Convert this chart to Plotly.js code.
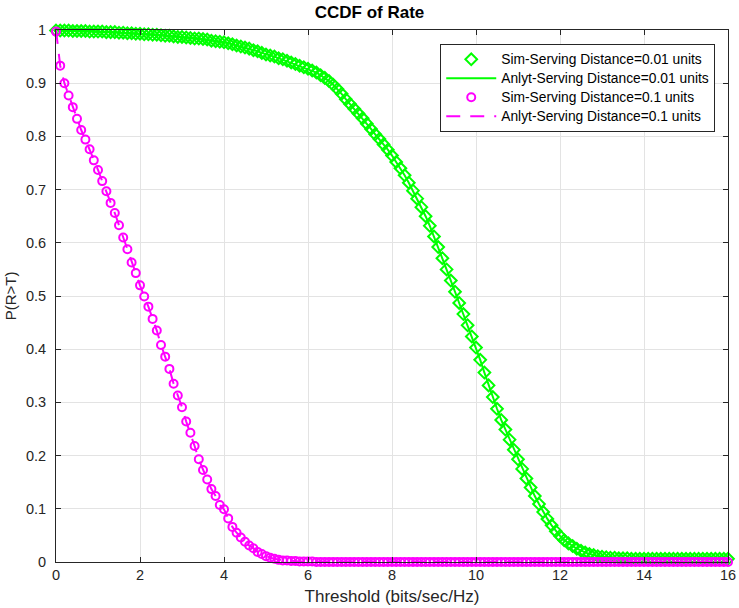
<!DOCTYPE html>
<html>
<head>
<meta charset="utf-8">
<script src="https://cdn.plot.ly/plotly-3.0.1.min.js"></script>
<style>html,body{margin:0;padding:0;background:#fff;}#chart{width:739px;height:608px;}</style>
</head>
<body>
<div id="chart"></div>
<script>
// Threshold grid (bits/sec/Hz), step 0.1 from 0 to 16
var thresholds = [];
for (var i = 0; i <= 160; i++) { thresholds.push(i / 10); }

// P(R>T), serving distance 0.01 units
var ccdfNear = [
  0.999,
  0.999,0.999,0.999,0.998,0.998,0.998,0.998,0.997,0.997,0.997,
  0.997,0.996,0.996,0.996,0.995,0.995,0.994,0.994,0.993,0.993,
  0.992,0.992,0.991,0.991,0.990,0.989,0.989,0.988,0.987,0.987,
  0.986,0.985,0.984,0.984,0.983,0.982,0.980,0.979,0.978,0.977,
  0.975,0.973,0.971,0.969,0.967,0.965,0.962,0.960,0.957,0.954,
  0.952,0.950,0.947,0.945,0.942,0.939,0.936,0.933,0.930,0.927,
  0.924,0.920,0.915,0.910,0.904,0.897,0.889,0.880,0.870,0.861,
  0.852,0.843,0.834,0.824,0.814,0.804,0.795,0.785,0.775,0.764,
  0.752,0.740,0.727,0.713,0.698,0.683,0.667,0.650,0.632,0.612,
  0.592,0.571,0.550,0.529,0.508,0.487,0.466,0.445,0.424,0.403,
  0.380,0.356,0.332,0.310,0.288,0.267,0.249,0.230,0.211,0.193,
  0.175,0.157,0.140,0.124,0.109,0.094,0.081,0.069,0.058,0.049,
  0.041,0.035,0.030,0.025,0.021,0.018,0.015,0.013,0.011,0.010,
  0.009,0.008,0.008,0.007,0.007,0.007,0.006,0.006,0.006,0.006,
  0.006,0.006,0.006,0.006,0.006,0.006,0.006,0.006,0.006,0.006,
  0.006,0.006,0.006,0.006,0.006,0.006,0.006,0.006,0.006,0.006
];

// P(R>T), serving distance 0.1 units
var ccdfFar = [
  0.997,
  0.933,0.900,0.877,0.855,0.833,0.812,0.794,0.776,0.755,0.737,
  0.716,0.697,0.675,0.656,0.633,0.610,0.588,0.563,0.543,0.520,
  0.499,0.480,0.457,0.435,0.408,0.386,0.363,0.335,0.313,0.291,
  0.264,0.243,0.218,0.193,0.173,0.155,0.137,0.124,0.107,0.099,
  0.082,0.066,0.055,0.046,0.038,0.031,0.026,0.019,0.015,0.011,
  0.008,0.006,0.004,0.003,0.003,0.002,0.002,0.001,0.001,0.001,
  0.001,0.000,0.000,0.000,0.000,0.000,0.000,0.000,0.000,0.000,
  0.000,0.000,0.000,0.000,0.000,0.000,0.000,0.000,0.000,0.000,
  0.000,0.000,0.000,0.000,0.000,0.000,0.000,0.000,0.000,0.000,
  0.000,0.000,0.000,0.000,0.000,0.000,0.000,0.000,0.000,0.000,
  0.000,0.000,0.000,0.000,0.000,0.000,0.000,0.000,0.000,0.000,
  0.000,0.000,0.000,0.000,0.000,0.000,0.000,0.000,0.000,0.000,
  0.000,0.000,0.000,0.000,0.000,0.000,0.000,0.000,0.000,0.000,
  0.000,0.000,0.000,0.000,0.000,0.000,0.000,0.000,0.000,0.000,
  0.000,0.000,0.000,0.000,0.000,0.000,0.000,0.000,0.000,0.000,
  0.000,0.000,0.000,0.000,0.000,0.000,0.000,0.000,0.000,0.000
];

// Analytic curves (they overlap the simulated ones)
var anlytNear = ccdfNear.slice();
var anlytFar = [1.0].concat(ccdfFar.slice(1));

var seriesNames = [
  'Sim-Serving Distance=0.01 units',
  'Anlyt-Serving Distance=0.01 units',
  'Sim-Serving Distance=0.1 units',
  'Anlyt-Serving Distance=0.1 units'
];
var xTicks = [0, 2, 4, 6, 8, 10, 12, 14, 16];
var yTicks = [0, 0.1, 0.2, 0.3, 0.4, 0.5, 0.6, 0.7, 0.8, 0.9, 1];
var yTickText = ['0', '0.1', '0.2', '0.3', '0.4', '0.5', '0.6', '0.7', '0.8', '0.9', '1'];

var green = '#00ff00', magenta = '#ff00ff';
var FONT = 'Liberation Sans, Arial, Helvetica, sans-serif';
function legendLabel(s) { return '<span style="font-size:13.8px">' + s + '</span>'; }

var traces = [
  {x: thresholds, y: ccdfNear, name: legendLabel(seriesNames[0]), type: 'scatter', mode: 'markers',
   cliponaxis: false,
   marker: {symbol: 'diamond-open', size: 9, color: green, line: {width: 2, color: green}}},
  {x: thresholds, y: anlytNear, name: legendLabel(seriesNames[1]), type: 'scatter', mode: 'lines',
   cliponaxis: false,
   line: {color: green, width: 2}},
  {x: thresholds, y: ccdfFar, name: legendLabel(seriesNames[2]), type: 'scatter', mode: 'markers',
   cliponaxis: false,
   marker: {symbol: 'circle-open', size: 8, color: magenta, line: {width: 2, color: magenta}}},
  {x: thresholds, y: anlytFar, name: legendLabel(seriesNames[3]), type: 'scatter', mode: 'lines',
   cliponaxis: false,
   line: {color: magenta, width: 2, dash: '14px,10px'}}
];

var axisCommon = {
  showline: true, linecolor: '#262626', linewidth: 1, mirror: 'ticks',
  ticks: 'inside', ticklen: 5, tickcolor: '#262626', tickwidth: 1,
  showgrid: true, gridcolor: '#e3e3e3', gridwidth: 1, zeroline: false,
  tickfont: {family: FONT, size: 14.5, color: '#262626'}
};

var layout = {
  width: 739, height: 608,
  margin: {l: 56, r: 11, t: 30, b: 46},
  paper_bgcolor: '#ffffff', plot_bgcolor: '#ffffff',
  font: {family: FONT, size: 14, color: '#262626'},
  title: {text: '<b>CCDF of Rate</b>', x: 0.5, xanchor: 'center', y: 0.981, yanchor: 'middle',
          font: {family: FONT, size: 17, color: '#000'}},
  xaxis: Object.assign({}, axisCommon, {
    range: [0, 16], tickvals: xTicks, ticktext: xTicks.map(String),
    ticklabelstandoff: 0,
    title: {text: 'Threshold (bits/sec/Hz)', standoff: 7,
            font: {family: FONT, size: 17, color: '#262626'}}
  }),
  yaxis: Object.assign({}, axisCommon, {
    range: [0, 1], tickvals: yTicks, ticktext: yTickText,
    ticklabelstandoff: 6,
    title: {text: 'P(R>T)', standoff: 5,
            font: {family: FONT, size: 15, color: '#262626'}}
  }),
  showlegend: true,
  legend: {
    x: 0.981, y: 0.974, xanchor: 'right', yanchor: 'top',
    bgcolor: '#ffffff', bordercolor: '#262626', borderwidth: 1,
    font: {family: FONT, size: 11, color: '#000'},
    tracegroupgap: 0, itemwidth: 50
  }
};

Plotly.newPlot('chart', traces, layout, {displayModeBar: false, staticPlot: true});
</script>
</body>
</html>
